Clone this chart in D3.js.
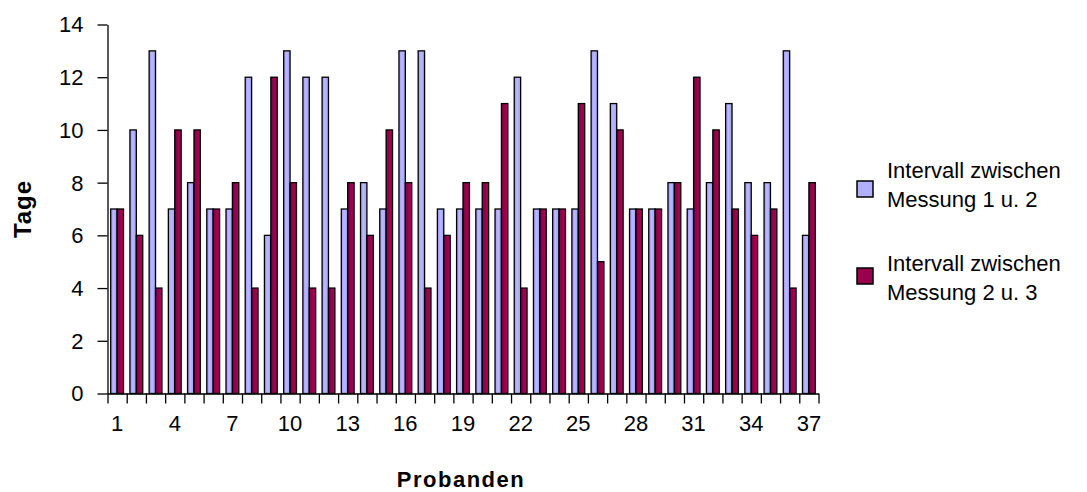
<!DOCTYPE html>
<html>
<head>
<meta charset="utf-8">
<script src="https://cdn.jsdelivr.net/npm/d3@7"></script>
<style>
  body { margin: 0; background: #fff; }
  svg text { font-family: "Liberation Sans", Arial, sans-serif; fill: #000; }
</style>
</head>
<body>
<div class="graph"></div>
<script>
// Probanden 1..37
const probanden = d3.range(1, 38);
const seriesNames = ["Intervall zwischen Messung 1 u. 2", "Intervall zwischen Messung 2 u. 3"];
const messung12 = [7,10,13,7,8,7,7,12,6,13,12,12,7,8,7,13,13,7,7,7,7,12,7,7,7,13,11,7,7,8,7,8,11,8,8,13,6];
const messung23 = [7,6,4,10,10,7,8,4,12,8,4,4,8,6,10,8,4,6,8,8,11,4,7,7,11,5,10,7,7,8,12,10,7,6,7,4,8];
const yTicks = [0,2,4,6,8,10,12,14];
const xTickLabels = [1,4,7,10,13,16,19,22,25,28,31,34,37];

const W = 1087, H = 492;
const margin = {top: 24.5, left: 107.5, right: 1087 - 818.5, bottom: 492 - 393.5};
const width = W - margin.left - margin.right,
      height = H - margin.top - margin.bottom;

const svg = d3.select(".graph").append("svg")
  .attr("width", W).attr("height", H);

// gradients for the bar fills
const defs = svg.append("defs");
function grad(id, stops) {
  const g = defs.append("linearGradient").attr("id", id)
    .attr("x1", "0%").attr("x2", "100%").attr("y1", "0%").attr("y2", "0%");
  stops.forEach(s => g.append("stop").attr("offset", s[0]).attr("stop-color", s[1]));
}
grad("g1", [["0%", "#a98ce8"], ["45%", "#b8bcff"], ["100%", "#9c9cf4"]]);
grad("g2", [["0%", "#6a0a3e"], ["55%", "#a0004f"], ["100%", "#a8005a"]]);
const fills = ["url(#g1)", "url(#g2)"];
const legendFills = ["#b0b0ff", "#99004d"];

const g = svg.append("g").attr("transform", `translate(${margin.left},${margin.top})`);

const x0 = d3.scaleBand().domain(probanden).range([0, width])
  .paddingInner(1/3).paddingOuter(1/6);
const x1 = d3.scaleBand().domain([0, 1]).range([0, x0.bandwidth()]);
const y = d3.scaleLinear().domain([0, 14]).range([height, 0]);

// bars
const data = probanden.map((p, i) => ({p, v: [messung12[i], messung23[i]]}));
const grp = g.selectAll("g.grp").data(data).join("g")
  .attr("transform", d => `translate(${x0(d.p)},0)`);
grp.selectAll("rect").data(d => d.v.map((v, k) => ({v, k}))).join("rect")
  .attr("x", d => x1(d.k))
  .attr("y", d => y(d.v))
  .attr("width", x1.bandwidth())
  .attr("height", d => height - y(d.v))
  .attr("fill", d => fills[d.k])
  .attr("stroke", "#000")
  .attr("stroke-width", 1.3);

// y axis
const yAxis = g.append("g")
  .call(d3.axisLeft(y).tickValues(yTicks).tickSize(10).tickPadding(14).tickSizeOuter(0));
yAxis.select(".domain").attr("stroke-width", 1.3);
yAxis.selectAll("line").attr("stroke-width", 1.3);
yAxis.selectAll("text").attr("font-size", 22).attr("dy", "0.34em");

// x axis: ticks at category boundaries
const xb = d3.scaleLinear().domain([0, probanden.length]).range([0, width]);
const xAxis = g.append("g").attr("transform", `translate(0,${height})`)
  .call(d3.axisBottom(xb).tickValues(d3.range(0, probanden.length + 1)).tickSize(10).tickFormat("").tickSizeOuter(0));
xAxis.select(".domain").attr("stroke-width", 1.3);
xAxis.selectAll("line").attr("stroke-width", 1.3);

g.append("g").selectAll("text").data(xTickLabels).join("text")
  .attr("x", d => x0(d) + x0.bandwidth() / 2)
  .attr("y", height + 37)
  .attr("text-anchor", "middle")
  .attr("font-size", 22)
  .text(d => d);

// axis titles
svg.append("text")
  .attr("transform", "translate(31,209) rotate(-90)")
  .attr("text-anchor", "middle")
  .attr("font-size", 24).attr("font-weight", "bold")
  .attr("letter-spacing", 1)
  .text("Tage");
svg.append("text")
  .attr("x", 461).attr("y", 487)
  .attr("text-anchor", "middle")
  .attr("font-size", 22).attr("font-weight", "bold")
  .attr("letter-spacing", 1.5)
  .text("Probanden");

// legend
const legendY = [181, 268];
const textOff = [-3, 3];
const leg = svg.append("g").selectAll("g").data(seriesNames).join("g")
  .attr("transform", (d, i) => `translate(857,${legendY[i]})`);
leg.append("rect")
  .attr("x", 0).attr("y", 0).attr("width", 16).attr("height", 16)
  .attr("fill", (d, i) => legendFills[i])
  .attr("stroke", "#000").attr("stroke-width", 1.5);
leg.each(function(d, i) {
  const parts = d.split(" Messung");
  const t = d3.select(this).append("text").attr("font-size", 22);
  t.append("tspan").attr("x", 30).attr("y", textOff[i]).text(parts[0]);
  t.append("tspan").attr("x", 30).attr("y", textOff[i] + 29).text("Messung" + parts[1]);
});
</script>
</body>
</html>
